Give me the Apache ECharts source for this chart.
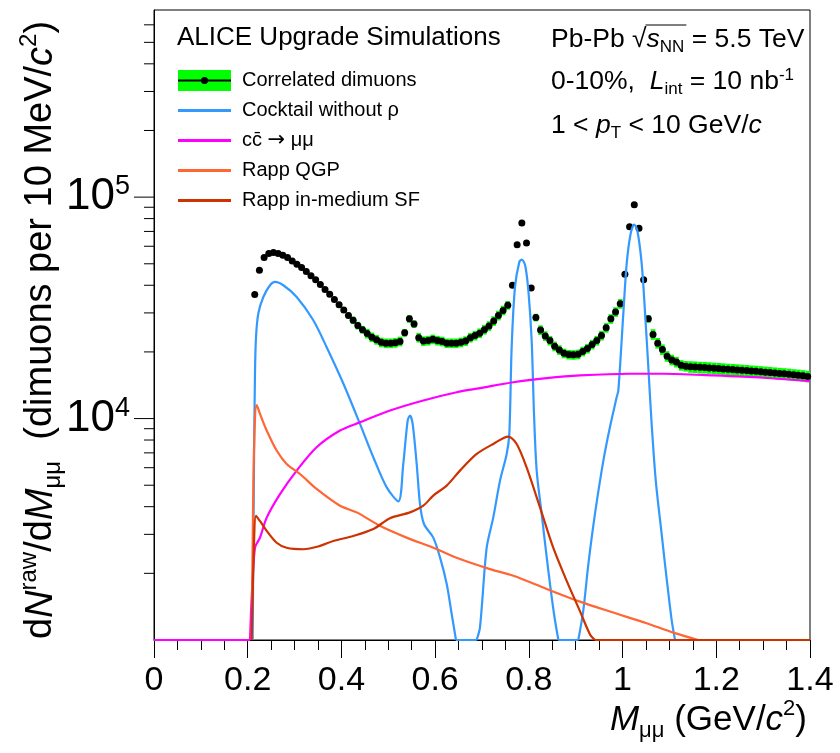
<!DOCTYPE html>
<html>
<head>
<meta charset="utf-8">
<script src="https://cdn.jsdelivr.net/npm/echarts@6.0.0/dist/echarts.min.js"></script>
<style>
html,body{margin:0;padding:0;background:#ffffff;}
#chart{width:840px;height:753px;}
</style>
</head>
<body>
<div id="chart"></div>
<script>
// ---------------- data ----------------
const massBins = [
0.215,0.225,0.235,0.245,0.255,0.265,0.275,0.285,0.295,0.305,
0.315,0.325,0.335,0.345,0.355,0.365,0.375,0.385,0.395,0.405,
0.415,0.425,0.435,0.445,0.455,0.465,0.475,0.485,0.495,0.505,
0.515,0.525,0.535,0.545,0.555,0.565,0.575,0.585,0.595,0.605,
0.615,0.625,0.635,0.645,0.655,0.665,0.675,0.685,0.695,0.705,
0.715,0.725,0.735,0.745,0.755,0.765,0.775,0.785,0.795,0.805,
0.815,0.825,0.835,0.845,0.855,0.865,0.875,0.885,0.895,0.905,
0.915,0.925,0.935,0.945,0.955,0.965,0.975,0.985,0.995,1.005,
1.015,1.025,1.035,1.045,1.055,1.065,1.075,1.085,1.095,1.105,
1.115,1.125,1.135,1.145,1.155,1.165,1.175,1.185,1.195,1.205,
1.215,1.225,1.235,1.245,1.255,1.265,1.275,1.285,1.295,1.305,
1.315,1.325,1.335,1.345,1.355,1.365,1.375,1.385,1.395];

const dimuonYield = [
36300,46700,53400,55600,56300,55600,54700,53400,51500,49700,
48100,46100,44200,42400,40300,38300,36400,34500,32700,30900,
29200,27800,26300,25200,24200,23300,22700,22100,21900,21900,
22000,22300,24400,28200,26700,23200,22400,22500,22800,22500,
22300,21900,21900,21900,22100,22400,23200,23700,24300,25200,
26200,27600,29200,30800,32500,40000,61000,76500,62000,38900,
28600,25100,23600,22500,21200,20400,19700,19450,19400,19500,
20100,20700,21600,22500,23700,25700,28200,30300,33000,44800,
73400,92300,72400,42400,28200,24000,21900,20500,19100,18400,
18000,17400,17250,17130,17090,17030,17000,16940,16870,16820,
16760,16690,16640,16590,16520,16470,16390,16340,16270,16190,
16140,16060,15980,15930,15850,15770,15700,15610,15500];

const dimuonRelErr = [
0.02,0.02,0.02,0.02,0.02,0.02,0.02,0.02,0.02,0.02,
0.02,0.02,0.02,0.02,0.02,0.02,0.02,0.02,0.03,0.03,
0.03,0.04,0.04,0.04,0.05,0.05,0.05,0.05,0.05,0.05,
0.05,0.05,0.04,0.04,0.04,0.05,0.05,0.05,0.05,0.05,
0.05,0.05,0.05,0.05,0.05,0.05,0.05,0.05,0.05,0.05,
0.05,0.05,0.05,0.05,0.045,0.025,0.025,0.025,0.025,0.025,
0.04,0.05,0.05,0.05,0.05,0.05,0.05,0.05,0.05,0.05,
0.05,0.05,0.05,0.05,0.05,0.05,0.05,0.05,0.05,0.025,
0.025,0.025,0.025,0.025,0.04,0.055,0.055,0.055,0.055,0.055,
0.055,0.055,0.055,0.06,0.06,0.06,0.06,0.06,0.06,0.06,
0.06,0.06,0.06,0.06,0.06,0.06,0.06,0.06,0.06,0.06,
0.06,0.06,0.06,0.06,0.06,0.06,0.06,0.06,0.06];

// [mass, yield]
const cocktailPoints = [
[0.2106,1000],[0.2134,6240],[0.2155,15900],[0.2177,23300],[0.2226,29800],[0.2333,35400],
[0.2476,40000],[0.2582,41400],[0.276,40000],[0.3045,35400],[0.340,27800],[0.3685,21000],
[0.404,14400],[0.4396,9460],[0.468,6690],[0.4966,4890],[0.5214,4230],[0.532,6240],
[0.5414,9800],[0.5463,10320],[0.552,9460],[0.5606,6240],[0.5677,4110],[0.5762,3340],
[0.596,2900],[0.6104,2360],[0.6247,1790],[0.6353,1310],[0.6445,1000],[0.6886,1000],
[0.6957,1140],[0.710,2610],[0.724,3570],[0.7384,5240],[0.7527,6920],[0.7583,8530],
[0.7633,21000],[0.7704,39300],[0.7797,51000],[0.785,52200],[0.792,49300],[0.7989,38000],
[0.806,22500],[0.811,10500],[0.8167,5820],[0.8274,3700],[0.8416,2050],[0.8537,1310],
[0.863,1000],[0.9055,1000],[0.916,1350],[0.927,2200],[0.941,3700],[0.959,6460],
[0.973,9140],[0.9875,12500],[0.991,13400],[1.0016,29800],[1.0088,50100],[1.0173,68500],
[1.025,75200],[1.0314,70900],[1.0408,50100],[1.048,30000],[1.055,17000],[1.062,9500],
[1.071,5200],[1.0835,3000],[1.094,1900],[1.105,1220],[1.112,1000],[1.4,1000]];

const charmPoints = [
[0,1000],[0.2049,1000],[0.2085,1550],[0.2155,2610],[0.2262,2900],[0.2405,3570],
[0.2689,4560],[0.3045,5820],[0.347,7420],[0.397,8830],[0.4396,9620],[0.5037,10870],
[0.5747,12070],[0.646,13150],[0.6957,13720],[0.767,14590],[0.838,15220],[0.909,15660],
[1.0159,15940],[1.087,15940],[1.194,15660],[1.300,15290],[1.4,14750]];

const qgpPoints = [
[0.2085,1000],[0.2120,5000],[0.2155,10000],[0.2190,11500],[0.2262,10500],[0.2405,8830],
[0.2618,7170],[0.283,6240],[0.3116,5620],[0.347,4810],[0.397,4040],[0.4326,3770],
[0.482,3280],[0.539,2900],[0.596,2610],[0.653,2320],[0.717,2090],[0.767,1950],
[0.838,1700],[0.909,1490],[0.980,1330],[1.0514,1190],[1.108,1080],[1.1616,1000],[1.4,1000]];

const inMediumPoints = [
[0.2085,1000],[0.2130,2500],[0.2177,3640],[0.2260,3450],[0.2405,3110],[0.2618,2750],
[0.283,2610],[0.3187,2570],[0.3543,2660],[0.3827,2800],[0.4254,2950],[0.468,3170],
[0.5037,3550],[0.5463,3770],[0.5747,4040],[0.596,4490],[0.6247,4980],[0.653,5820],
[0.6887,6920],[0.724,7680],[0.756,8290],[0.774,7680],[0.795,6030],[0.8238,3970],
[0.852,2610],[0.8807,1850],[0.909,1350],[0.9305,1060],[0.941,1000],[1.4,1000]];

const seriesNames = ['Correlated dimuons','Cocktail without \u03c1','cc\u0304 \u2192 \u03bc\u03bc','Rapp QGP','Rapp in-medium SF'];
const seriesColors = ['#00ff00','#3399ff','#ff00ff','#ff6633','#cc3300'];

const xTickLabels = ['0','0.2','0.4','0.6','0.8','1','1.2','1.4'];
const yLabelValues = [10000, 100000];
const yLabelExponents = ['4','5'];
const yMajorTicks = [10000, 100000];
const yMinorTicks = [2000,3000,4000,5000,6000,7000,8000,9000,
  20000,30000,40000,50000,60000,70000,80000,90000,
  200000,300000,400000,500000,600000];

// ---------------- helpers ----------------
const FONT = 'Liberation Sans';
const Y_FLOOR = 1000;

function buildLine(points){
  const out = [];
  for (let i = 0; i < points.length; i++){
    const p = points[i];
    out.push([p[0], p[1]]);
    const atFloor = p[1] <= Y_FLOOR;
    if (atFloor && i > 0 && i < points.length - 1){
      const prevFloor = points[i-1][1] <= Y_FLOOR;
      const nextFloor = points[i+1][1] <= Y_FLOOR;
      if (prevFloor !== nextFloor){
        out.push([p[0], '-']);
        out.push([p[0], p[1]]);
      }
    }
  }
  return out;
}

function rich(size, lh, small){
  const base = {fontFamily: FONT, color: '#000'};
  return {
    r: Object.assign({fontSize: size, lineHeight: lh, verticalAlign: 'middle'}, base),
    i: Object.assign({fontSize: size, lineHeight: lh, fontStyle: 'italic', verticalAlign: 'middle'}, base),
    sup: Object.assign({fontSize: small, lineHeight: small, verticalAlign: 'top'}, base),
    sub: Object.assign({fontSize: small, lineHeight: small, verticalAlign: 'bottom'}, base)
  };
}

function svgIcon(inner){
  const svg = "<svg xmlns='http://www.w3.org/2000/svg' width='53' height='21' viewBox='0 0 53 21'>" + inner + "</svg>";
  return 'image://data:image/svg+xml;charset=utf-8,' + encodeURIComponent(svg);
}
const legendIcons = [
  svgIcon("<rect x='0' y='0' width='53' height='21' fill='#00ff00'/><rect x='0' y='9.5' width='53' height='2' fill='#000'/><circle cx='26.5' cy='10.5' r='3.5' fill='#000'/>"),
  svgIcon("<rect x='0' y='9' width='53' height='3' fill='" + seriesColors[1] + "'/>"),
  svgIcon("<rect x='0' y='9' width='53' height='3' fill='" + seriesColors[2] + "'/>"),
  svgIcon("<rect x='0' y='9' width='53' height='3' fill='" + seriesColors[3] + "'/>"),
  svgIcon("<rect x='0' y='9' width='53' height='3' fill='" + seriesColors[4] + "'/>")
];

// text measurement for the sqrt overline
const mctx = document.createElement('canvas').getContext('2d');
function tw(t, size, italic){
  mctx.font = (italic ? 'italic ' : '') + size + 'px "' + FONT + '"';
  return mctx.measureText(t).width;
}
const RT_SIZE = 26.5, RT_SMALL = 17, RT_X = 551;
const ovX1 = RT_X + tw('Pb-Pb ', RT_SIZE) + tw('\u221a', RT_SIZE) - 1;
const ovX2 = ovX1 + tw('s', RT_SIZE, true) + tw('NN', RT_SMALL) + 3;

const bandData = massBins.map((x, i) => [x, dimuonYield[i], dimuonRelErr[i]]);
const dotData = massBins.map((x, i) => [x, dimuonYield[i]]);
const tickData = yMajorTicks.map(v => [0, v, 20]).concat(yMinorTicks.map(v => [0, v, 10]));

const lineSets = [cocktailPoints, charmPoints, qgpPoints, inMediumPoints];

const chart = echarts.init(document.getElementById('chart'), null, {renderer: 'canvas'});

const rtStyle = {fill: '#000', verticalAlign: 'middle', textVerticalAlign: 'middle', align: 'left', textAlign: 'left'};

const option = {
  animation: false,
  backgroundColor: '#ffffff',
  grid: {left: 154, right: 30, top: 10, bottom: 113, containLabel: false, outerBoundsMode: 'none',
    show: true, borderColor: '#000', borderWidth: 1, backgroundColor: 'transparent'},
  xAxis: {
    type: 'value', min: 0, max: 1.4, interval: 0.2,
    axisLine: {show: true, onZero: false, lineStyle: {color: '#000', width: 1}},
    axisTick: {show: true, inside: false, length: 18, lineStyle: {color: '#000', width: 1}},
    minorTick: {show: true, splitNumber: 4, length: 10, lineStyle: {color: '#000', width: 1}},
    splitLine: {show: false}, minorSplitLine: {show: false},
    axisLabel: {fontSize: 34, fontFamily: FONT, color: '#000', margin: 24,
      formatter: v => xTickLabels[Math.round(v / 0.2)]},
    name: '{i|M}{sub|\u03bc\u03bc}{r| (GeV/}{i|c}{sup|2}{r|)}',
    nameLocation: 'end', nameGap: -3, nameMoveOverlap: false,
    nameTextStyle: {align: 'right', verticalAlign: 'top', padding: [58, 0, 0, 0], rich: rich(35, 44, 22)}
  },
  yAxis: {
    type: 'log', logBase: 10, min: 1000, max: 700000,
    axisLine: {show: true, lineStyle: {color: '#000', width: 1}},
    axisTick: {show: false}, splitLine: {show: false},
    axisLabel: {margin: 24, formatter: v => {
        for (let k = 0; k < yLabelValues.length; k++) {
          if (Math.abs(v - yLabelValues[k]) / yLabelValues[k] < 1e-6) return '{b|10}{s|' + yLabelExponents[k] + '}';
        }
        return '';
      },
      rich: {
        b: {fontSize: 44, lineHeight: 48, fontFamily: FONT, color: '#000', verticalAlign: 'middle'},
        s: {fontSize: 27, lineHeight: 27, fontFamily: FONT, color: '#000', verticalAlign: 'top'}
      }
    },
    name: '{r|d}{i|N}{sup|raw}{r|/d}{i|M}{sub|\u03bc\u03bc}{r|  (dimuons per 10 MeV/}{i|c}{sup|2}{r|)}',
    nameLocation: 'middle', nameRotate: 90, nameGap: 89, nameMoveOverlap: false,
    nameTextStyle: {padding: [0, 10, 0, 0], rich: rich(38, 48, 24)}
  },
  legend: {
    orient: 'vertical', left: 178, top: 70, itemWidth: 53, itemHeight: 21, itemGap: 9, padding: 0,
    selectedMode: false,
    formatter: name => name === seriesNames[2] ? '{t|cc\u0304 }{ar|\u2192}{t| \u03bc\u03bc}' : name,
    textStyle: {fontSize: 20, fontFamily: FONT, color: '#000', padding: [0, 0, 0, 6],
      rich: {
        t: {fontSize: 20, fontFamily: FONT, color: '#000'},
        ar: {fontSize: 21, fontFamily: 'DejaVu Sans', color: '#000'}
      }},
    data: seriesNames.map((n, i) => ({name: n, icon: legendIcons[i]}))
  },
  graphic: [
    {type: 'text', x: 177, y: 38, z: 100,
      style: {text: 'ALICE Upgrade Simulations', fontSize: 26, fontFamily: FONT, fill: '#000',
        verticalAlign: 'middle', textVerticalAlign: 'middle', align: 'left', textAlign: 'left'}},
    {type: 'text', x: RT_X, y: 40, z: 100,
      style: Object.assign({text: '{r|Pb-Pb }{r|\u221a}{i|s}{sub|NN}{r| = 5.5 TeV}', rich: rich(RT_SIZE, 31, RT_SMALL)}, rtStyle)},
    {type: 'line', z: 100, shape: {x1: ovX1, y1: 25, x2: ovX2, y2: 25}, style: {stroke: '#000', lineWidth: 1.2}},
    {type: 'text', x: RT_X, y: 82, z: 100,
      style: Object.assign({text: '{r|0-10%,  }{i|L}{sub|int}{r| = 10 nb}{sup|-1}', rich: rich(RT_SIZE, 31, RT_SMALL)}, rtStyle)},
    {type: 'text', x: RT_X, y: 126, z: 100,
      style: Object.assign({text: '{r|1 < }{i|p}{sub|T}{r| < 10 GeV/}{i|c}', rich: rich(RT_SIZE, 31, RT_SMALL)}, rtStyle)}
  ],
  series: [
    {
      type: 'custom', name: 'dimuon errors', z: 2, silent: true,
      data: bandData,
      encode: {x: 0, y: 1},
      renderItem: (params, api) => {
        const x = api.value(0), v = api.value(1), e = api.value(2);
        const p1 = api.coord([x - 0.005, v * (1 + e)]);
        const p2 = api.coord([x + 0.005, v * (1 - e)]);
        return {type: 'rect', shape: {x: p1[0], y: p1[1], width: p2[0] - p1[0], height: p2[1] - p1[1]},
          style: {fill: seriesColors[0]}};
      }
    },
    {
      type: 'scatter', name: seriesNames[0], z: 3, symbol: 'circle', symbolSize: 7,
      itemStyle: {color: '#000', opacity: 1}, data: dotData, silent: true
    }
  ].concat(lineSets.map((pts, k) => ({
      type: 'line', name: seriesNames[k + 1], z: 4 + k, color: seriesColors[k + 1],
      showSymbol: false, symbol: 'none', smooth: 0.3, clip: false, connectNulls: false,
      lineStyle: {width: 2.2, color: seriesColors[k + 1]},
      data: buildLine(pts), silent: true
    }))).concat([{
      type: 'custom', name: 'y ticks', z: 10, silent: true, clip: false,
      data: tickData, encode: {x: 0, y: 1},
      renderItem: (params, api) => {
        const p = api.coord([0, api.value(1)]);
        const len = api.value(2);
        return {type: 'line', shape: {x1: p[0] - len, y1: p[1], x2: p[0], y2: p[1]},
          style: {stroke: '#000', lineWidth: 1}};
      }
    }])
};
chart.setOption(option);
</script>
</body>
</html>
